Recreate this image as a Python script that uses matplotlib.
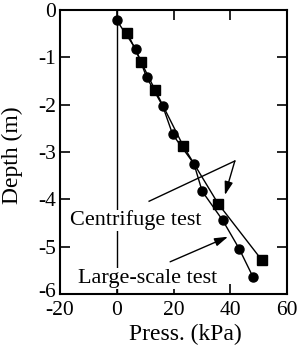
import matplotlib
matplotlib.use("Agg")
from matplotlib import pyplot as plt
from matplotlib import transforms

## data
# large-scale test (circles)
large_press = [0.0, 6.8, 10.5, 16.2, 19.7, 27.2, 30.1, 37.3, 43.1, 48.0]
large_depth = [-0.22, -0.83, -1.42, -2.03, -2.63, -3.25, -3.83, -4.44, -5.04, -5.64]
# centrifuge test (squares)
cent_press = [3.7, 8.5, 13.5, 23.4, 35.7, 51.2]
cent_depth = [-0.48, -1.09, -1.69, -2.87, -4.09, -5.29]

x_ticks = [-20, 0, 20, 40, 60]
y_ticks = [0, -1, -2, -3, -4, -5, -6]

plt.rcParams["font.family"] = ["Liberation Serif", "DejaVu Serif"]
plt.rcParams["axes.unicode_minus"] = False

fig = plt.figure(figsize=(2.99, 3.58), dpi=100)
ax = fig.add_axes([0.2007, 0.1788, 0.7593, 0.7932])

# zero line
ax.plot([0, 0], [0, -6], color="black", lw=1.0, zorder=1)

ax.plot(large_press, large_depth, color="black", lw=1.0, marker="o", ms=6.5, zorder=3)
ax.plot(cent_press, cent_depth, color="black", lw=1.0, marker="s", ms=6.5, zorder=3)

ax.set_xlim(-20, 60)
ax.set_ylim(-6, 0)
ax.set_xticks(x_ticks)
ax.set_yticks(y_ticks)
ax.tick_params(direction="in", top=True, right=True, length=7, width=1.2,
               labelsize=15.5, pad=3)
ax.tick_params(axis="x", pad=5)
for s in ax.spines.values():
    s.set_linewidth(1.5)

# nudge the bottom y label up a little so it clears "-20"
lab = ax.get_yticklabels()[-1]
lab.set_transform(lab.get_transform() + transforms.ScaledTranslation(0, 3 / 72, fig.dpi_scale_trans))

ax.set_xlabel("Press. (kPa)", fontsize=17, va="top")
ax.xaxis.set_label_coords(0.55, -0.105)
ax.set_ylabel("Depth (m)", fontsize=17)
ax.yaxis.set_label_coords(-0.165, 0.49)

# labels with arrows
bg = dict(facecolor="white", edgecolor="none", pad=0.5)
ax.text(-16.5, -4.545, "Centrifuge test", fontsize=16, va="baseline", ha="left",
        bbox=bg, zorder=2)
ax.text(-13.6, -5.77, "Large-scale test", fontsize=16, va="baseline", ha="left",
        bbox=bg, zorder=2)

ax.plot([11.4, 41.6], [-4.04, -3.19], color="black", lw=1.0, zorder=2)
arrow = dict(arrowstyle="-|>,head_length=0.8,head_width=0.25", color="black",
             lw=1.0, shrinkA=0, shrinkB=0)
ax.annotate("", xy=(38.1, -3.91), xytext=(41.6, -3.19), arrowprops=arrow)
ax.annotate("", xy=(39.2, -4.79), xytext=(18.8, -5.32), arrowprops=arrow)

fig.savefig("out.png", dpi=100)
